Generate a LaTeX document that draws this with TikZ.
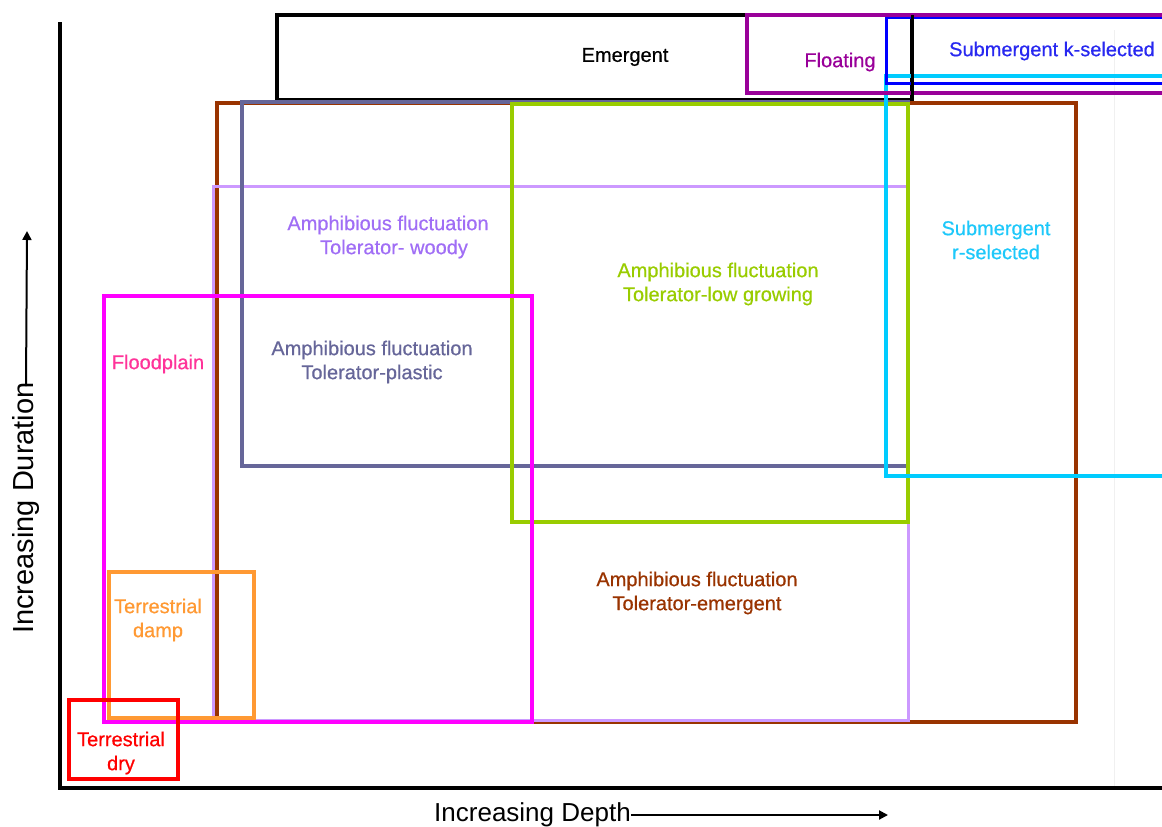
\documentclass[tikz,border=0pt]{standalone}
\usepackage{fontspec}
\setmainfont{Liberation Sans}
\newfontfamily\lblfont{Liberation Sans}[FakeBold=0.6]
\usetikzlibrary{arrows.meta}
\definecolor{cEm}{RGB}{0,0,0}
\definecolor{cFl}{RGB}{153,0,153}
\definecolor{cK}{RGB}{0,0,255}
\definecolor{cKt}{RGB}{40,40,240}
\definecolor{cR}{RGB}{0,204,255}
\definecolor{cRt}{RGB}{30,200,250}
\definecolor{cBr}{RGB}{153,51,0}
\definecolor{cPl}{RGB}{102,102,153}
\definecolor{cWo}{RGB}{204,153,255}
\definecolor{cWot}{RGB}{160,110,245}
\definecolor{cLg}{RGB}{153,204,0}
\definecolor{cFp}{RGB}{255,0,255}
\definecolor{cFpt}{RGB}{255,51,153}
\definecolor{cDa}{RGB}{255,153,51}
\definecolor{cDr}{RGB}{255,0,0}
\tikzset{
  zone/.style={line width=4pt},
  lbl/.style={font=\lblfont\fontsize{20}{24}\selectfont, align=center, inner sep=0pt},
  axis/.style={line width=4pt, black},
  axlbl/.style={font=\fontsize{26}{30}\selectfont, inner sep=0pt},
  axarrow/.style={line width=2pt, -{Triangle[length=9pt,width=9pt]}}
}
\begin{document}
\begin{tikzpicture}[x=1pt,y=-1pt]
\useasboundingbox (0,0) rectangle (1162,827);
\clip (0,0) rectangle (1162,827);
% faint guide
\draw[gray!12, line width=1pt] (1114,30) -- (1114,786);
% zones
\draw[zone, cEm] (277,15) rectangle (912,100);
\draw[zone, cBr] (217,103) rectangle (1076,722);
\draw[zone, line width=3pt, cWo] (213,186) rectangle (908,720);
\draw[zone, cPl] (242,102) rectangle (908,466);
\draw[zone, cLg] (512,104) rectangle (908,522);
\draw[zone, cFp] (104,296) rectangle (532,722);
\draw[zone, cDa] (109,572) rectangle (254,718);
\draw[zone, cDr] (69,700) rectangle (178,779);
\draw[zone, cR] (886,76) rectangle (1180,476);
\draw[zone, line width=3pt, cK] (886,17) rectangle (1180,83);
\draw[zone, cFl] (747,15) rectangle (1180,93);
\draw[zone, line width=3pt, cEm] (912,15) -- (912,100);
% labels
\node[lbl, cEm] (emergent) at (625,57) {Emergent};
\node[lbl, cFl] (floating) at (840,62) {Floating};
\node[lbl, cKt] (ksel) at (1052,51) {Submergent k-selected};
\node[lbl, cRt] (rsel) at (996,240) {Submergent\\r-selected};
\node[lbl, cWot] (woody) at (388,237) {Amphibious fluctuation\\\hspace*{12pt}Tolerator- woody};
\node[lbl, cLg] (lowgrow) at (718,284) {Amphibious fluctuation\\Tolerator-low growing};
\node[lbl, cPl] (plastic) at (372,362) {Amphibious fluctuation\\Tolerator-plastic};
\node[lbl, cFpt] (floodplain) at (158,364) {Floodplain};
\node[lbl, cBr] (tolemergent) at (697,593) {Amphibious fluctuation\\Tolerator-emergent};
\node[lbl, cDa] (damp) at (158,620) {Terrestrial\\damp};
\node[lbl, cDr] (dry) at (121,753) {Terrestrial\\dry};
% axes
\coordinate (origin) at (60,788);
\coordinate (ytop) at (60,22);
\coordinate (xend) at (1170,788);
\draw[axis] (ytop) -- (origin) -- (xend);
\node[axlbl, anchor=west] (depth) at (434,815) {Increasing Depth};
\coordinate (depthtip) at (888,815);
\draw[axarrow] (depth.east) -- (depthtip);
\node[axlbl, rotate=90, anchor=west, font=\fontsize{29}{33}\selectfont] (duration) at (26,634) {Increasing Duration};
\coordinate (durtip) at (27,231);
\draw[axarrow] ([yshift=-4pt]duration.east) -- (durtip);
\end{tikzpicture}
\end{document}
